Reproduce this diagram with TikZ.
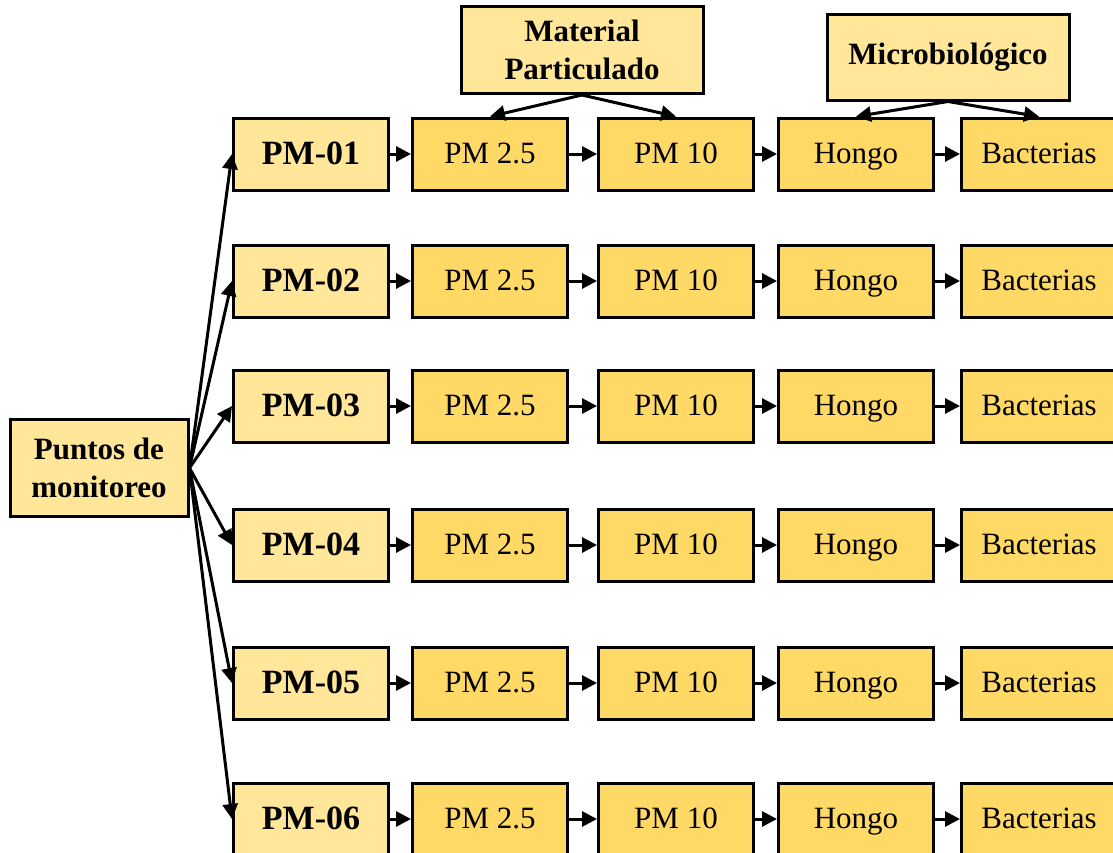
\documentclass[tikz,border=0pt]{standalone}
\usepackage{fontspec}
\setmainfont{Liberation Serif}
\usetikzlibrary{arrows.meta}

\definecolor{boxlight}{HTML}{FFE699}
\definecolor{boxdark}{HTML}{FFD966}

\tikzset{
  grupo/.style={draw, line width=3pt, fill=boxlight, align=center, inner sep=0pt,
    font=\fontsize{31}{38}\selectfont\bfseries},
  punto/.style={grupo, minimum width=155pt, minimum height=72pt, text height=23pt, text depth=2pt,
    font=\fontsize{34}{38}\selectfont\bfseries},
  param/.style={draw, line width=3pt, fill=boxdark, inner sep=0pt, text height=22pt, text depth=3pt,
    minimum width=155pt, minimum height=72pt, font=\fontsize{31}{38}\selectfont},
  flecha/.style={line width=3pt, -{Triangle[length=15pt, width=15pt]}}
}

\begin{document}
\begin{tikzpicture}[x=1pt, y=-1pt]
  \useasboundingbox (0,0) rectangle (1113,852);
  \clip (0,0) rectangle (1113,852);

  \node[grupo, minimum width=178pt, minimum height=97pt] (puntos) at (99, 468) {Puntos de\\monitoreo};
  \node[grupo, minimum width=242pt, minimum height=87pt] (material) at (582, 50) {Material\\Particulado};
  \node[grupo, minimum width=242pt, minimum height=86pt] (micro) at (948, 57) {Microbiológico};

  \foreach \i/\y in {1/154, 2/281, 3/406, 4/545, 5/683, 6/819} {
    \node[punto] (pm\i)    at (311, \y)  {PM-0\i};
    \node[param] (pmA\i)   at (490, \y)  {PM 2.5};
    \node[param] (pmB\i)   at (676, \y)  {PM 10};
    \node[param] (hongo\i) at (856, \y)  {Hongo};
    \node[param] (bact\i)  at (1039, \y) {Bacterias};

    \draw[flecha] (puntos.east) -- (pm\i.west);
    \draw[flecha] (pm\i) -- (pmA\i);
    \draw[flecha] (pmA\i) -- (pmB\i);
    \draw[flecha] (pmB\i) -- (hongo\i);
    \draw[flecha] (hongo\i) -- (bact\i);
  }

  \draw[flecha] (material.south) -- (pmA1.north);
  \draw[flecha] (material.south) -- (pmB1.north);
  \draw[flecha] (micro.south) -- (hongo1.north);
  \draw[flecha] (micro.south) -- (bact1.north);
\end{tikzpicture}
\end{document}
